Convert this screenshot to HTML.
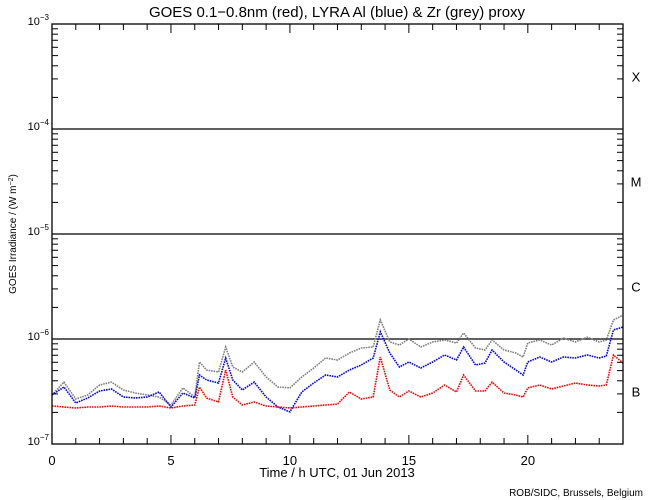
<!DOCTYPE html>
<html><head><meta charset="utf-8">
<style>
body{margin:0;background:#fff;}
svg{display:block;font-family:"Liberation Sans",sans-serif;}
</style></head>
<body>
<svg id="chart" width="650" height="500" viewBox="0 0 650 500">
<rect width="650" height="500" fill="#fff"/>
<text x="337" y="17" font-size="15" text-anchor="middle">GOES 0.1−0.8nm (red), LYRA Al (blue) &amp; Zr (grey) proxy</text>
<text transform="translate(16,234) rotate(-90)" font-size="10" text-anchor="middle">GOES Irradiance / (W m<tspan baseline-shift="super" font-size="7">−2</tspan>)</text>
<text x="337" y="477" font-size="13" text-anchor="middle">Time / h UTC, 01 Jun 2013</text>
<text x="643" y="496" font-size="10" text-anchor="end">ROB/SIDC, Brussels, Belgium</text>
<g id="grid"></g>
<g id="series"></g>
<g id="axes"></g>
</svg>
<script>
const hours=[0,0.5,1,1.5,2,2.5,3,3.5,4,4.5,5,5.5,6,6.2,6.5,7,7.3,7.6,8,8.5,9,9.5,10,10.5,11,11.5,12,12.5,13,13.5,13.8,14.2,14.6,15,15.5,16,16.5,17,17.3,17.8,18.2,18.5,19,19.5,19.8,20,20.5,21,21.5,22,22.5,23,23.3,23.6,24];
const goesRed=[2.30e-7,2.25e-7,2.20e-7,2.25e-7,2.25e-7,2.30e-7,2.25e-7,2.25e-7,2.25e-7,2.30e-7,2.20e-7,2.30e-7,2.35e-7,3.49e-7,2.74e-7,2.51e-7,5.07e-7,2.80e-7,2.35e-7,2.51e-7,2.30e-7,2.25e-7,2.20e-7,2.25e-7,2.30e-7,2.35e-7,2.40e-7,3.13e-7,2.68e-7,2.80e-7,6.74e-7,3.27e-7,2.80e-7,3.20e-7,2.80e-7,3.06e-7,3.65e-7,3.13e-7,4.54e-7,3.20e-7,3.20e-7,3.89e-7,3.06e-7,2.93e-7,2.80e-7,3.42e-7,3.65e-7,3.34e-7,3.57e-7,3.81e-7,3.65e-7,3.57e-7,3.65e-7,7.04e-7,5.91e-7];
const lyraAl=[2.93e-7,3.49e-7,2.46e-7,2.74e-7,3.20e-7,3.34e-7,2.80e-7,2.74e-7,2.80e-7,3.13e-7,2.25e-7,3.06e-7,2.74e-7,4.54e-7,4.07e-7,3.81e-7,6.59e-7,4.07e-7,3.27e-7,3.89e-7,2.80e-7,2.25e-7,2.02e-7,3.13e-7,3.81e-7,4.54e-7,4.35e-7,5.07e-7,5.65e-7,6.59e-7,1.17e-6,7.36e-7,5.41e-7,6.04e-7,5.29e-7,6.04e-7,7.04e-7,6.31e-7,8.39e-7,5.65e-7,5.91e-7,7.86e-7,6.04e-7,5.07e-7,4.54e-7,6.04e-7,6.74e-7,6.04e-7,6.74e-7,6.59e-7,7.04e-7,6.59e-7,6.89e-7,1.22e-6,1.30e-6];
const lyraZr=[2.93e-7,3.89e-7,2.68e-7,2.93e-7,3.65e-7,3.89e-7,3.27e-7,3.06e-7,2.93e-7,2.80e-7,2.35e-7,3.42e-7,2.80e-7,6.04e-7,5.07e-7,4.85e-7,8.39e-7,5.41e-7,4.85e-7,6.04e-7,4.35e-7,3.49e-7,3.42e-7,4.35e-7,5.29e-7,6.59e-7,6.31e-7,7.36e-7,8.21e-7,8.39e-7,1.52e-6,9.36e-7,8.77e-7,1.00e-6,8.39e-7,9.36e-7,9.78e-7,9.16e-7,1.14e-6,8.21e-7,7.86e-7,9.78e-7,7.86e-7,7.36e-7,6.74e-7,9.16e-7,9.78e-7,8.77e-7,1.02e-6,9.36e-7,1.04e-6,9.36e-7,9.78e-7,1.52e-6,1.69e-6];
const yTickExps=[-3,-4,-5,-6,-7];
const xTickLabels=[0,5,10,15,20];
const flareClasses=["X","M","C","B"];

const NS="http://www.w3.org/2000/svg";
const X0=52,X1=623,Y0=444,Y1=24;
const xs=h=>X0+(X1-X0)*h/24;
const ys=v=>Y0-(Y0-Y1)*(Math.log10(v)+7)/4;
function mk(tag,attrs,parent){const e=document.createElementNS(NS,tag);for(const k in attrs)e.setAttribute(k,attrs[k]);parent.appendChild(e);return e;}
const grid=document.getElementById('grid'),ser=document.getElementById('series'),ax=document.getElementById('axes');

[1e-4,1e-5,1e-6].forEach(v=>{
  const l=mk('line',{x1:X0,x2:X1,y1:ys(v),y2:ys(v),stroke:'#000','stroke-width':1.3},grid);
  
  
});
flareClasses.forEach((c,i)=>{
  const t=mk('text',{x:636,y:ys(Math.pow(10,-3.5-i))+5,'font-size':13,'text-anchor':'middle'},grid);
  t.textContent=c;
  
  
});

function drawSeries(vals,color,name){
  const g=mk('g',{},ser);
  
  
  const pts=hours.map((h,i)=>xs(h).toFixed(1)+','+ys(vals[i]).toFixed(1)).join(' ');
  mk('polyline',{points:pts,fill:'none',stroke:color,'stroke-width':1.6,'stroke-dasharray':'1.6 0.9'},g);
}
drawSeries(lyraZr,'#808080','lyra-zr-series');
drawSeries(lyraAl,'#0000ff','lyra-al-series');
drawSeries(goesRed,'#ff0000','goes-series');

const frame=mk('rect',{x:X0,y:Y1,width:X1-X0,height:Y0-Y1,fill:'none',stroke:'#000','stroke-width':1.3},ax);


for(let h=0;h<=24;h++){
  const len=h%5===0?9:6;
  mk('line',{x1:xs(h),x2:xs(h),y1:Y0,y2:Y0-len,stroke:'#000'},ax);
  mk('line',{x1:xs(h),x2:xs(h),y1:Y1,y2:Y1+len,stroke:'#000'},ax);
}
xTickLabels.forEach(h=>{
  const t=mk('text',{x:xs(h),y:465,'font-size':13,'text-anchor':'middle'},ax);
  t.textContent=h;
  
  
});
for(let e=-7;e<-3;e++){
  for(let m=2;m<=9;m++){
    const y=ys(m*Math.pow(10,e));
    mk('line',{x1:X0,x2:X0+6,y1:y,y2:y,stroke:'#000'},ax);
    mk('line',{x1:X1,x2:X1-6,y1:y,y2:y,stroke:'#000'},ax);
  }
}
yTickExps.forEach(e=>{
  const t=mk('text',{x:49,y:ys(Math.pow(10,e))+1,'font-size':11,'text-anchor':'end'},ax);
  t.innerHTML='10<tspan dy="-5" font-size="8">'+(e<0?'−':'')+Math.abs(e)+'</tspan>';
  
  
});
</script>
</body></html>
